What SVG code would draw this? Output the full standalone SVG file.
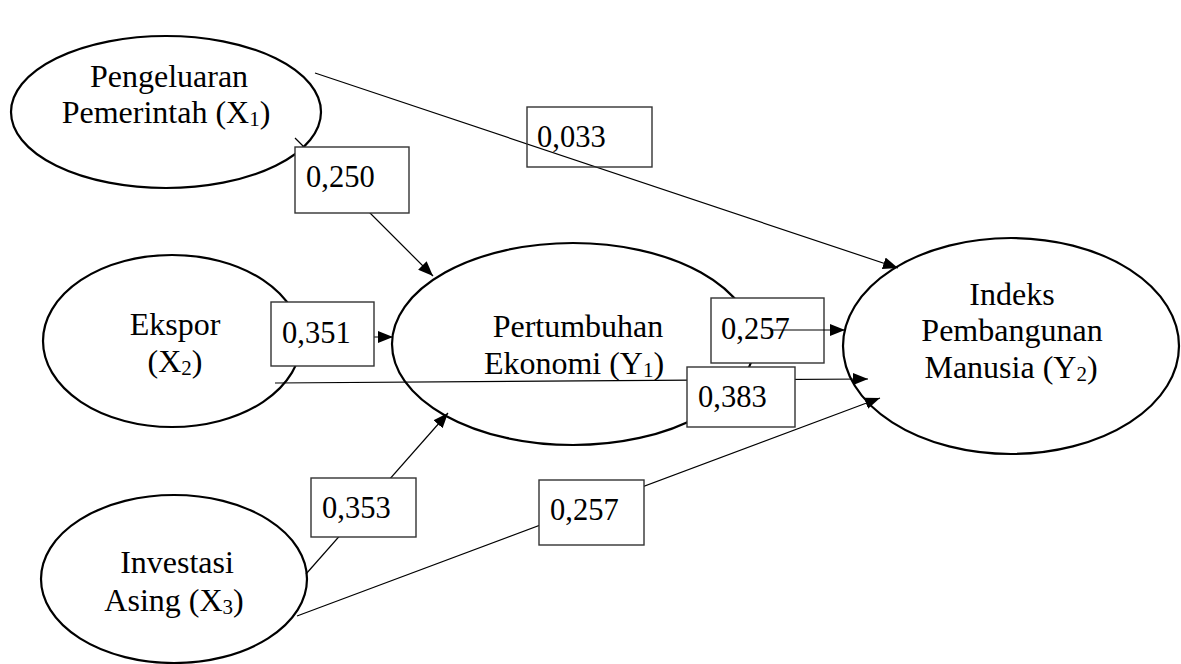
<svg xmlns="http://www.w3.org/2000/svg" width="1181" height="664" viewBox="0 0 1181 664">
<style>
.node{fill:#fff;stroke:#000;stroke-width:2.2}
.lbl{font-size:32px;fill:#000;text-anchor:middle}
.num{font-size:30.5px;fill:#000}
.box{fill:#fff;stroke:#333;stroke-width:1.4}
.edge{stroke:#000;stroke-width:1.2;fill:none}
.sub{font-size:21px}
</style>
<defs>
<marker id="ah" markerUnits="userSpaceOnUse" markerWidth="16" markerHeight="12" refX="15" refY="6" orient="auto">
<path d="M0,0 L15,6 L0,12 z" fill="#000"/>
</marker>
</defs>
<rect width="1181" height="664" fill="#fff"/>
<g font-family="Liberation Serif, DejaVu Serif, serif">
<g id="X1">
<ellipse class="node" cx="166" cy="112" rx="155" ry="76"/>
<text class="lbl" x="169" y="87">Pengeluaran</text>
<text class="lbl" x="166" y="123">Pemerintah (X<tspan class="sub" dy="3">1</tspan><tspan dy="-3">)</tspan></text>
</g>
<g id="X2">
<ellipse class="node" cx="172" cy="341" rx="129" ry="86"/>
<text class="lbl" x="175" y="335">Ekspor</text>
<text class="lbl" x="175" y="372">(X<tspan class="sub" dy="3">2</tspan><tspan dy="-3">)</tspan></text>
</g>
<g id="X3">
<ellipse class="node" cx="174" cy="579" rx="133" ry="84"/>
<text class="lbl" x="177" y="573">Investasi</text>
<text class="lbl" x="174" y="611">Asing (X<tspan class="sub" dy="3">3</tspan><tspan dy="-3">)</tspan></text>
</g>
<g id="Y1">
<ellipse class="node" cx="573" cy="344" rx="181" ry="101"/>
<text class="lbl" x="578" y="337">Pertumbuhan</text>
<text class="lbl" x="574" y="374">Ekonomi (Y<tspan class="sub" dy="3">1</tspan><tspan dy="-3">)</tspan></text>
</g>
<g id="Y2">
<ellipse class="node" cx="1011" cy="346" rx="168" ry="108"/>
<text class="lbl" x="1012" y="305">Indeks</text>
<text class="lbl" x="1012" y="341">Pembangunan</text>
<text class="lbl" x="1011" y="378">Manusia (Y<tspan class="sub" dy="3">2</tspan><tspan dy="-3">)</tspan></text>
</g>
<g id="label-y1-y2">
<rect class="box" x="711" y="298" width="113" height="65"/>
<text class="num" x="721" y="339">0,257</text>
</g>
<g id="connectors">
<line class="edge" x1="315" y1="73" x2="898" y2="268" marker-end="url(#ah)"/>
<line class="edge" x1="295" y1="138" x2="433" y2="276" marker-end="url(#ah)"/>
<line class="edge" x1="300" y1="337" x2="393" y2="337" marker-end="url(#ah)"/>
<line class="edge" x1="306" y1="574" x2="448" y2="413" marker-end="url(#ah)"/>
<line class="edge" x1="770" y1="330" x2="845" y2="330" marker-end="url(#ah)"/>
<line class="edge" x1="275" y1="383" x2="868" y2="379" marker-end="url(#ah)"/>
<line class="edge" x1="297" y1="616" x2="880" y2="398" marker-end="url(#ah)"/>
</g>
<g id="label-x1-y2">
<rect class="box" x="527" y="107" width="125" height="60" style="fill:none"/>
<text class="num" x="537" y="147">0,033</text>
</g>
<g id="label-x1-y1">
<rect class="box" x="295" y="147" width="114" height="66"/>
<text class="num" x="306" y="187">0,250</text>
</g>
<g id="label-x2-y1">
<rect class="box" x="271" y="302" width="103" height="64"/>
<text class="num" x="282" y="343">0,351</text>
</g>
<g id="label-x2-y2">
<rect class="box" x="687" y="367" width="108" height="60"/>
<text class="num" x="698" y="407">0,383</text>
</g>
<g id="label-x3-y1">
<rect class="box" x="311" y="478" width="105" height="59"/>
<text class="num" x="322" y="518">0,353</text>
</g>
<g id="label-x3-y2">
<rect class="box" x="539" y="480" width="105" height="65"/>
<text class="num" x="550" y="520">0,257</text>
</g>
</g>
</svg>
